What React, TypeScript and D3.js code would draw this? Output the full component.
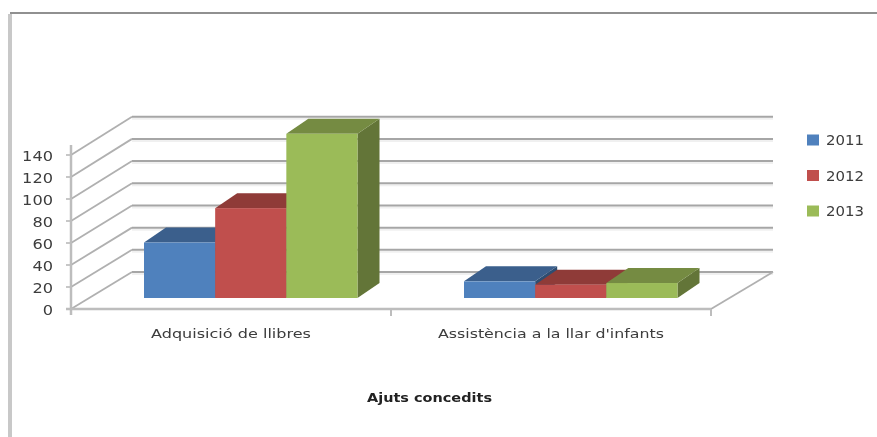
import React from "react";
import * as d3 from "d3";

const categories = ["Adquisició de llibres", "Assistència a la llar d'infants"];
const seriesNames = ["2011", "2012", "2013"];
const values2011 = [50, 15];
const values2012 = [81, 12];
const values2013 = [148, 13.5];
const seriesValues = [values2011, values2012, values2013];
const tickValues = [0, 20, 40, 60, 80, 100, 120, 140];
const axisTitle = "Ajuts concedits";
const frontColors = ["#4f81bd", "#c0504d", "#9bbb59"];
const topColors = ["#3a5f8c", "#8f3a37", "#748b42"];
const sideColors = ["#2f4d71", "#632523", "#647537"];

const W = 877, H = 437;
const barDX = 22, barDY = 15;
const x0 = d3.scaleBand<string>().domain(categories).range([71, 711]);
const xInner = d3.scaleBand<string>().domain(seriesNames).range([73, 286.5]);
const yFront = d3.scaleLinear().domain([0, 140]).range([309, 155]);
const yBack = d3.scaleLinear().domain([0, 140]).range([272, 116.7]);
const yBar = d3.scaleLinear().domain([0, 140]).range([298, 142.7]);
const gridGrey = "#a6a6a6";
const font = "'DejaVu Sans', sans-serif";
const poly = (pts: number[][]) => d3.line()(pts as [number, number][]) + "Z";

export default function App() {
  return (
    <svg width={W} height={H} viewBox={`0 0 ${W} ${H}`} style={{ position: "fixed", left: 0, top: 0, background: "#fff" }}>
      <defs>
        <filter id="soft" x="0" y="0" width="100%" height="100%">
          <feGaussianBlur stdDeviation="0.6" />
        </filter>
      </defs>
      <g filter="url(#soft)">
        <rect x={0} y={0} width={W} height={H} fill="#fff" />
        <line x1={10} x2={W} y1={13} y2={13} stroke="#909090" strokeWidth={2.2} />
        <line x1={10} x2={10} y1={14} y2={H} stroke="#c8c8c8" strokeWidth={4} />

        {tickValues.map((t) => (
          <g key={t}>
            <line x1={132} x2={773} y1={yBack(t) + 2} y2={yBack(t) + 2} stroke="#f0f0f0" strokeWidth={2} />
            <line x1={132} x2={773} y1={yBack(t)} y2={yBack(t)} stroke={gridGrey} strokeWidth={2} />
            <line x1={71} x2={132} y1={yFront(t)} y2={yBack(t)} stroke="#b0b0b0" strokeWidth={1.8} />
            <line x1={66} x2={71} y1={yFront(t)} y2={yFront(t)} stroke="#b5b5b5" strokeWidth={1.5} />
            <text x={53} y={yFront(t) + 6} textAnchor="end" fontFamily={font} fontSize={13.5} fill="#3c3c3c"
              textLength={String(t).length * 10.3} lengthAdjust="spacingAndGlyphs">{t}</text>
          </g>
        ))}
        <line x1={711} x2={773} y1={309} y2={272} stroke="#b0b0b0" strokeWidth={1.8} />
        <line x1={71} x2={71} y1={145} y2={315} stroke="#bdbdbd" strokeWidth={2.5} />
        <line x1={66} x2={711} y1={309} y2={309} stroke="#bdbdbd" strokeWidth={2.5} />
        {[391, 711].map((x) => (
          <line key={x} x1={x} x2={x} y1={309} y2={316} stroke="#bdbdbd" strokeWidth={2} />
        ))}

        {categories.map((c, ci) => (
          <g key={c}>
            {seriesNames.map((s, si) => {
              const v = seriesValues[si][ci];
              const left = x0(c)! + xInner(s)!;
              const right = left + xInner.bandwidth();
              const top = yBar(v);
              const base = yBar(0);
              return (
                <g key={s}>
                  <path d={poly([[right, top], [right + barDX, top - barDY], [right + barDX, base - barDY], [right, base]])} fill={sideColors[si]} />
                  <path d={poly([[left, top], [right, top], [right + barDX, top - barDY], [left + barDX, top - barDY]])} fill={topColors[si]} />
                  <rect x={left} y={top} width={right - left} height={base - top} fill={frontColors[si]} />
                </g>
              );
            })}
            <text x={x0(c)! + x0.bandwidth() / 2 + (ci === 0 ? 0 : 0)} y={337.5} textAnchor="middle" fontFamily={font} fontSize={12.5} fill="#3c3c3c"
              textLength={ci === 0 ? 160 : 226} lengthAdjust="spacingAndGlyphs">{c}</text>
          </g>
        ))}

        {seriesNames.map((s, i) => (
          <g key={s} transform={`translate(807,${140 + i * 35.5})`}>
            <rect x={0} y={-5.5} width={12} height={11} fill={frontColors[i]} />
            <text x={19} y={5} fontFamily={font} fontSize={13.5} fill="#3c3c3c" textLength={38} lengthAdjust="spacingAndGlyphs">{s}</text>
          </g>
        ))}

        <text x={429.5} y={402} textAnchor="middle" fontFamily={font} fontSize={12.5} fontWeight="bold" fill="#222"
          textLength={125} lengthAdjust="spacingAndGlyphs">{axisTitle}</text>
      </g>
    </svg>
  );
}
